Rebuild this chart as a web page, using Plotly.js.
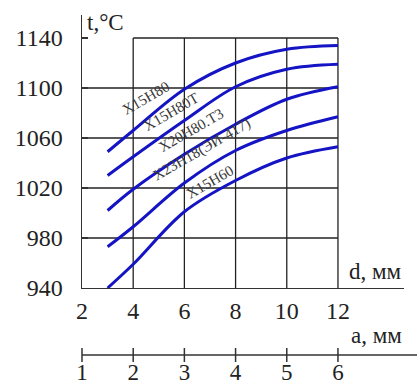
<!DOCTYPE html>
<html>
<head>
<meta charset="utf-8">
<script src="https://cdn.plot.ly/plotly-3.0.1.min.js"></script>
<style>html,body{margin:0;padding:0;background:#fff;}#chart{width:417px;height:386px;}</style>
</head>
<body>
<div id="chart"></div>
<script>
// d, mm
const dValues = [3, 4, 6, 8, 10, 12];
const seriesNames = ["Х15Н80", "Х15Н80Т", "Х20Н80.Т3", "Х23Н18(ЭИ-417)", "Х15Н60"];
const tX15N80   = [1049, 1066, 1099, 1120, 1131, 1134];
const tX15N80T  = [1030, 1045, 1074, 1101, 1115, 1119];
const tX20N80T3 = [1002, 1019, 1047, 1071, 1091, 1101];
const tX23N18   = [973, 989, 1024, 1050, 1066, 1077];
const tX15N60   = [940, 959, 1001, 1026, 1044, 1053];
const dTicks = [2, 4, 6, 8, 10, 12];
const aTicks = [1, 2, 3, 4, 5, 6];
const tTicks = [940, 980, 1020, 1060, 1100, 1140];
// label placement along the curves
const labelD = [4.5, 5.48, 6.27, 6.69, 7.0];
const labelT = [1092, 1080.5, 1066.5, 1050.5, 1025];

const series = [tX15N80, tX15N80T, tX20N80T3, tX23N18, tX15N60];
const blue = '#1414c4';
const font = 'Liberation Serif, Times New Roman, serif';

const traces = series.map((ys, i) => ({
  x: dValues, y: ys, type: 'scatter', mode: 'lines',
  line: {color: blue, width: 3, shape: 'spline', smoothing: 1},
  name: seriesNames[i], hoverinfo: 'skip', cliponaxis: false
}));
// tick marks on the a-axis
traces.push({
  x: aTicks, y: aTicks.map(() => 0), xaxis: 'x2', yaxis: 'y2',
  type: 'scatter', mode: 'markers', cliponaxis: false, hoverinfo: 'skip',
  marker: {symbol: 'line-ns', size: 10, line: {color: '#333', width: 1.5}}
});

const dMin = dTicks[0], dMax = dTicks[dTicks.length - 1];
const tMin = tTicks[0], tMax = tTicks[tTicks.length - 1];
const gridColor = '#222';
const shapes = [];
tTicks.slice(1).forEach(t => {
  shapes.push({type: 'line', xref: 'x', yref: 'y', x0: t === tMax ? dTicks[1] : dMin, x1: dMax, y0: t, y1: t,
    line: {color: gridColor, width: 1.3}, layer: 'below'});
});
dTicks.slice(1).forEach(d => {
  shapes.push({type: 'line', xref: 'x', yref: 'y', x0: d, x1: d, y0: tMin, y1: tMax,
    line: {color: gridColor, width: 1.3}, layer: 'below'});
});
// a-axis line
shapes.push({type: 'line', xref: 'paper', yref: 'paper', x0: 0, x1: 1.05, y0: 0, y1: 0,
  line: {color: '#333', width: 1.5}});

const annotations = [
  {text: 't,°C', xref: 'paper', yref: 'paper', x: 0.01, y: 1.02, xanchor: 'left', yanchor: 'top',
   showarrow: false, font: {family: font, size: 23, color: '#222'}},
  {text: 'd, мм', xref: 'paper', yref: 'y', x: 1.0, y: tMin + 2, xanchor: 'right', yanchor: 'bottom',
   showarrow: false, font: {family: font, size: 23, color: '#222'}},
  {text: 'a, мм', xref: 'paper', yref: 'paper', x: 1.0, y: 0.015, xanchor: 'right', yanchor: 'bottom',
   showarrow: false, font: {family: font, size: 23, color: '#222'}}
];
seriesNames.forEach((n, i) => {
  annotations.push({text: n, xref: 'x', yref: 'y', x: labelD[i], y: labelT[i], textangle: -30,
    showarrow: false, font: {family: font, size: 15, color: '#3a3a3a'}});
});

const layout = {
  width: 417, height: 386,
  margin: {l: 82, r: 13, t: 15, b: 31},
  paper_bgcolor: '#fff', plot_bgcolor: 'rgba(0,0,0,0)',
  showlegend: false,
  xaxis: {range: [2, 14.58], domain: [0, 1], anchor: 'y', showgrid: false, zeroline: false,
    showline: true, linecolor: '#333', linewidth: 1.5, ticks: '',
    tickvals: dTicks, ticktext: dTicks.map(String), ticklabelstandoff: 1,
    tickfont: {family: font, size: 24, color: '#222'}},
  yaxis: {range: [940, 1158.4], domain: [0.19706, 1], anchor: 'x', showgrid: false, zeroline: false,
    showline: true, linecolor: '#333', linewidth: 1.5, ticks: 'inside', ticklen: 6, tickcolor: '#333', tickwidth: 1.3,
    tickvals: tTicks, ticktext: tTicks.map(String), ticklabelstandoff: 13,
    tickfont: {family: font, size: 24, color: '#222'}},
  xaxis2: {range: [1, 7.29], domain: [0, 1], anchor: 'y2', showgrid: false, zeroline: false,
    showline: false, ticks: '', tickvals: aTicks, ticktext: aTicks.map(String), ticklabelstandoff: 1,
    tickfont: {family: font, size: 23, color: '#222'}},
  yaxis2: {range: [0, 1], domain: [0, 0.05], anchor: 'x2', visible: false},
  shapes: shapes,
  annotations: annotations
};

Plotly.newPlot('chart', traces, layout, {displayModeBar: false, staticPlot: true});
</script>
</body>
</html>
